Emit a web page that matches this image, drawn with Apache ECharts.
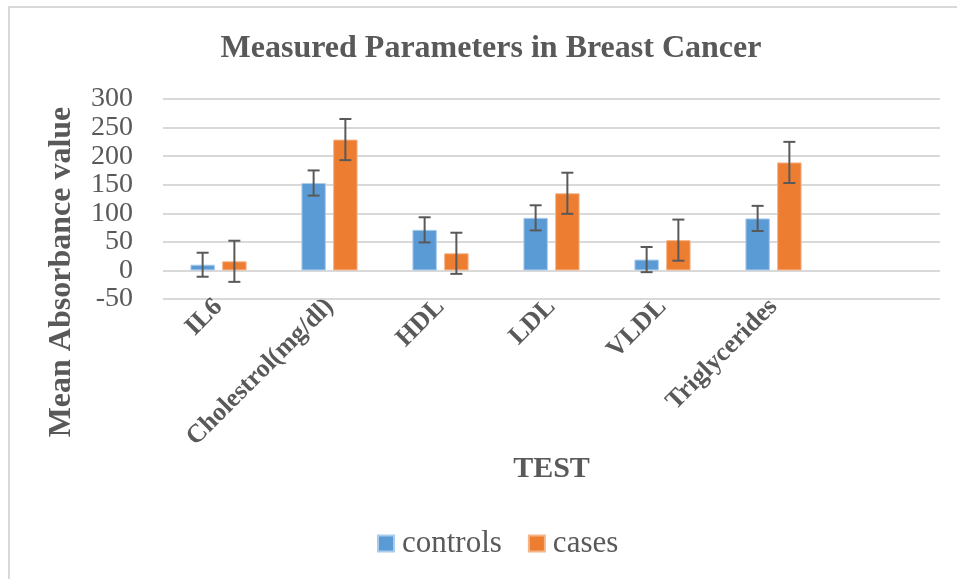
<html>
<head>
<meta charset="utf-8">
<script src="https://cdn.jsdelivr.net/npm/echarts@6/dist/echarts.min.js"></script>
<style>
    body { margin: 0; padding: 0; background: #fff; }
    #chart { width: 957px; height: 579px; }
</style>
</head>
<body>
<div id="chart"></div>
<script type="text/javascript">
    // values
    var categories = ['IL6', 'Cholestrol(mg/dl)', 'HDL', 'LDL', 'VLDL', 'Triglycerides', ''];
    var controls = [10, 153, 71, 92, 19, 91];
    var cases = [16, 229, 30, 135, 53, 189];
    var controlsErr = [21, 22, 22, 22, 22, 22];
    var casesErr = [36, 36, 36, 36, 36, 36];
    var yTicks = { min: -50, max: 300, step: 50 };

    var serif = "'Liberation Serif', 'Times New Roman', serif";
    var grey = '#595959';
    var barW = 0.22, barGap = 0.30;

    // error bar data: [category index, value, error, side]
    var errData = [];
    for (var c = 0; c < controls.length; c++) {
        errData.push([c, controls[c], controlsErr[c], -1]);
        errData.push([c, cases[c], casesErr[c], 1]);
    }

    var chart = echarts.init(document.getElementById('chart'));

    function renderErr(params, api) {
        var idx = api.value(0);
        var band = api.size([1, 0])[0];
        var off = api.value(3) * band * barW * (1 + barGap) / 2;
        var hi = api.coord([idx, api.value(1) + api.value(2)]);
        var lo = api.coord([idx, api.value(1) - api.value(2)]);
        var x = hi[0] + off;
        var cap = 6;
        var st = { stroke: '#595959', lineWidth: 2, fill: null };
        return {
            type: 'group',
            children: [
                { type: 'line', shape: { x1: x, y1: hi[1], x2: x, y2: lo[1] }, style: st },
                { type: 'line', shape: { x1: x - cap, y1: hi[1], x2: x + cap, y2: hi[1] }, style: st },
                { type: 'line', shape: { x1: x - cap, y1: lo[1], x2: x + cap, y2: lo[1] }, style: st }
            ]
        };
    }

    var option = {
        animation: false,
        backgroundColor: '#fff',
        title: {
            text: 'Measured Parameters in Breast Cancer',
            left: 486,
            textAlign: 'center',
            top: 28,
            textStyle: { fontFamily: serif, fontSize: 32, fontWeight: 'bold', color: grey }
        },
        graphic: [{
            type: 'rect',
            shape: { x: 9, y: 7, width: 1200, height: 800 },
            style: { fill: null, stroke: '#d9d9d9', lineWidth: 2 },
            silent: true
        }, {
            // y axis title sits lower than the plot middle in the original
            type: 'text',
            x: 62,
            y: 272,
            rotation: Math.PI / 2,
            style: {
                text: 'Mean Absorbance value',
                fontFamily: serif,
                fontSize: 32,
                fontWeight: 'bold',
                fill: grey,
                align: 'center',
                verticalAlign: 'middle'
            },
            silent: true
        }],
        legend: {
            data: ['controls', 'cases'],
            bottom: 15,
            left: 372,
            icon: 'rect',
            itemWidth: 16,
            itemHeight: 16,
            itemGap: 26,
            textStyle: { fontFamily: serif, fontSize: 31, color: grey, padding: [0, 0, 0, 3] }
        },
        grid: { left: 163, right: 17, top: 99, bottom: 280 },
        xAxis: {
            type: 'category',
            data: categories,
            name: 'TEST',
            nameLocation: 'middle',
            nameGap: 152,
            nameTextStyle: { fontFamily: serif, fontSize: 30, fontWeight: 'bold', color: grey },
            axisLine: { show: false, onZero: false },
            axisTick: { show: false },
            axisLabel: {
                rotate: 45,
                margin: 4,
                interval: 0,
                fontFamily: serif,
                fontSize: 26,
                fontWeight: 'bold',
                color: grey
            }
        },
        yAxis: {
            type: 'value',
            min: yTicks.min,
            max: yTicks.max,
            interval: yTicks.step,
            axisLine: { show: false },
            axisTick: { show: false },
            axisLabel: { margin: 30, fontFamily: serif, fontSize: 28, color: grey },
            splitLine: { lineStyle: { color: '#d9d9d9', width: 2 } }
        },
        series: [
            {
                name: 'controls',
                type: 'bar',
                data: controls,
                barWidth: (barW * 100) + '%',
                barGap: (barGap * 100) + '%',
                itemStyle: { color: '#5b9bd5', borderColor: '#a9cbec', borderWidth: 1 }
            },
            {
                name: 'cases',
                type: 'bar',
                data: cases,
                barWidth: (barW * 100) + '%',
                itemStyle: { color: '#ed7d31', borderColor: '#f5b48a', borderWidth: 1 }
            },
            {
                type: 'custom',
                renderItem: renderErr,
                data: errData,
                encode: { x: 0, y: 1 },
                z: 10,
                silent: true
            }
        ]
    };
    chart.setOption(option);
</script>
</body>
</html>
